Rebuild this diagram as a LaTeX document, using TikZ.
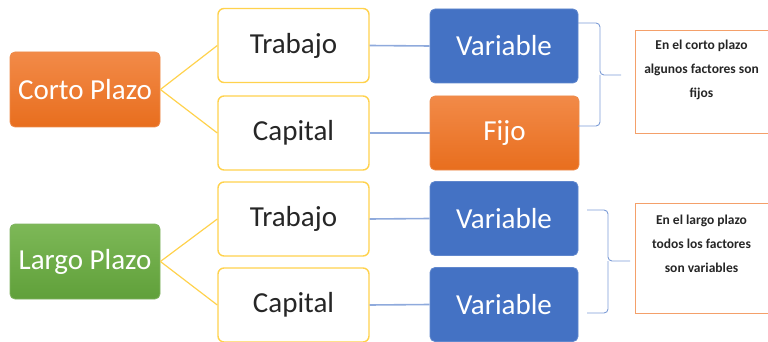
\documentclass[tikz,border=0pt]{standalone}
\usepackage{fontspec}
\setmainfont{Carlito}
\definecolor{orA}{HTML}{F28A48}
\definecolor{orB}{HTML}{E86E1E}
\definecolor{grA}{HTML}{7DB857}
\definecolor{grB}{HTML}{60A03A}
\definecolor{bluebox}{HTML}{4472C4}
\definecolor{blueline}{HTML}{8FAADC}
\definecolor{ylw}{HTML}{FFD24D}
\definecolor{notebd}{HTML}{F4A06A}
\tikzset{
  mainbox/.style={rounded corners=5pt, minimum width=150pt, minimum height=75pt, text=white, font=\fontsize{29}{32}\selectfont, inner sep=0pt},
  orbox/.style={mainbox, top color=orA, bottom color=orB, draw=orB!80!white, line width=0.8pt},
  grbox/.style={mainbox, top color=grA, bottom color=grB, draw=grB!80!white, line width=0.8pt},
  bluebx/.style={rounded corners=5pt, minimum width=148pt, minimum height=74pt, text=white, fill=bluebox, draw=bluebox!85!white, line width=0.8pt, font=\fontsize{29}{32}\selectfont, inner sep=0pt},
  factor/.style={rounded corners=6pt, minimum width=151pt, minimum height=74pt, draw=ylw, line width=1.4pt, fill=white, text=black!85, font=\fontsize{29}{32}\selectfont, inner sep=0pt},
  ylink/.style={draw=ylw, line width=1.2pt},
  blink/.style={draw=blueline, line width=1.6pt},
  brace/.style={draw=bluebox!70!white, line width=0.9pt, rounded corners=4pt},
  notebox/.style={draw=notebd, line width=1.4pt, fill=white},
  notetext/.style={align=center, font=\fontsize{13.5}{24}\selectfont\bfseries, text=black!85}
}
\begin{document}
\begin{tikzpicture}[x=1pt,y=-1pt]
\useasboundingbox (0,0) rectangle (768,342);
% top group
\node[orbox] (cp) at (85,89.5) {Corto Plazo};
\node[factor] (t1) at (293.5,45.5) {Trabajo};
\node[factor] (c1) at (293.5,133) {Capital};
\node[bluebx] (v1) at (504,46) {Variable};
\node[orbox, minimum width=149pt, minimum height=74pt] (f1) at (504.5,133) {Fijo};
\draw[ylink] (cp.east) -- (t1.west);
\draw[ylink] (cp.east) -- (c1.west);
\draw[blink] (t1.east) -- (v1.west);
\draw[blink] (c1.east) -- (f1.west);
\coordinate (b1t) at (578,23);
\coordinate (b1b) at (578,126);
\coordinate (b1m) at (621,75);
\draw[brace] (b1t) -- (600,23) -- (600,75) -- (b1m);
\draw[brace] (b1b) -- (600,126) -- (600,75);
\node[notebox, minimum width=140pt, minimum height=103pt, anchor=north west] (n1) at (635,30) {};
\node[notetext] (n1t) at (701.5,70) {En el corto plazo\\algunos factores son\\fijos};
% bottom group
\node[grbox] (lp) at (85,261.5) {Largo Plazo};
\node[factor] (t2) at (293.5,219) {Trabajo};
\node[factor] (c2) at (293.5,305) {Capital};
\node[bluebx] (v2) at (504,218.5) {Variable};
\node[bluebx] (v3) at (504,304.5) {Variable};
\draw[ylink] (lp.east) -- (t2.west);
\draw[ylink] (lp.east) -- (c2.west);
\draw[blink] (t2.east) -- (v2.west);
\draw[blink] (c2.east) -- (v3.west);
\coordinate (b2t) at (587,210);
\coordinate (b2b) at (587,313);
\coordinate (b2m) at (630,261);
\draw[brace] (b2t) -- (608,210) -- (608,261) -- (b2m);
\draw[brace] (b2b) -- (608,313) -- (608,261);
\node[notebox, minimum width=140pt, minimum height=110pt, anchor=north west] (n2) at (635,203) {};
\node[notetext] (n2t) at (701.5,244) {En el largo plazo\\todos los factores\\son variables};
\end{tikzpicture}
\end{document}
